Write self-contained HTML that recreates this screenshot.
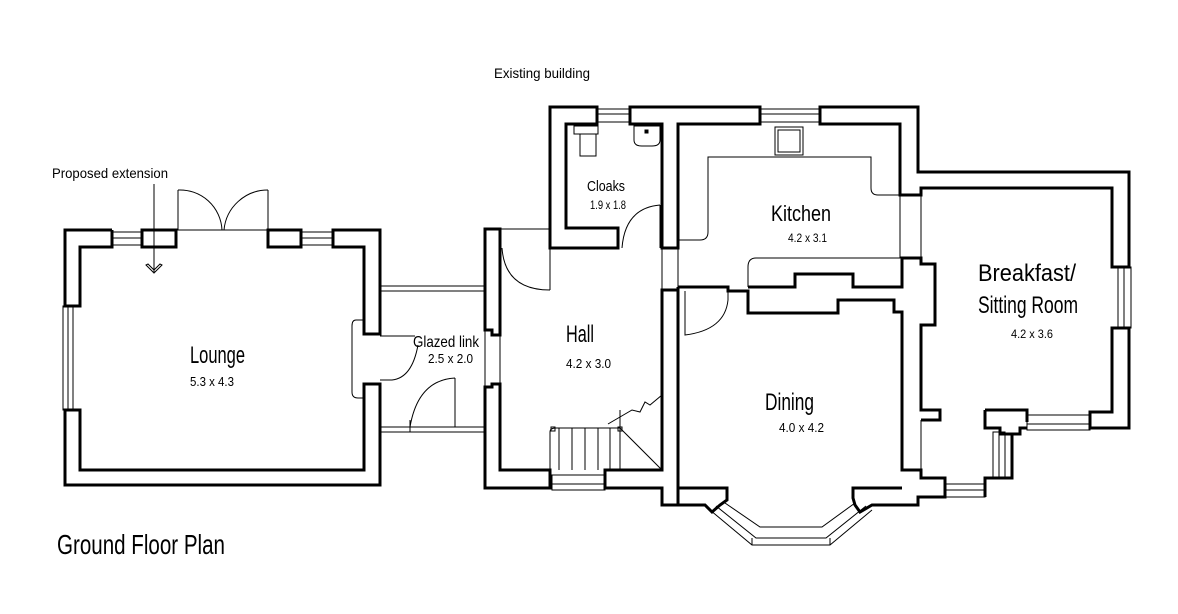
<!DOCTYPE html>
<html><head><meta charset="utf-8"><style>
html,body{margin:0;padding:0;background:#fff;}
svg{display:block;}
text{font-family:"Liberation Sans Narrow","Liberation Sans",sans-serif;fill:#000;}
</style></head><body>
<svg width="1178" height="614" viewBox="0 0 1178 614" xmlns="http://www.w3.org/2000/svg">
<g fill="none" stroke="#000" stroke-width="3" stroke-linejoin="miter">
<!-- Lounge walls -->
<path d="M112,230 H65 V306 H80 V247 H112 V230"/>
<path d="M65,410 H80 V470 H364 V384 H380 V485 H65 Z"/>
<path d="M333,230 H380 V334 H364 V247 H333 Z"/>
<rect x="142" y="230" width="34" height="17"/>
<rect x="268" y="230" width="33" height="17"/>
<!-- Hall -->
<path d="M500,229 H485 V330 H492 V335 H500 Z"/>
<path d="M485,387 H492 V384 H500 V470 H550 V488 H485 Z"/>
<path d="M605,488 V470 H662 V290 H678 V505 H662 V488 Z"/>
<!-- Cloaks + top -->
<path d="M550,248 V107 H597 V124 H566 V228 H618 V248 Z"/>
<path d="M630,107 H760 V124 H678 V248 H662 V124 H630 Z"/>
<path d="M820,107 H918 V172 H1129 V267 H1112 V188 H921 V195 H900 V124 H820 Z"/>
<!-- kitchen/dining divider -->
<path d="M678,287 H728 V291 H748 V313 H838 V300 H894 V312 H902 V470 H921 V478 H945 V497 H918 V505 H872 L860,512 L855,505 L853,498 V488 H902"/>
<path d="M748,287 H795 V274 H853 V287 H902 V258 H921 V264 H935 V325 H921 V410 H940 V420 H921"/>
<path d="M678,287 V291" />
<!-- Dining bottom + bay -->
<path d="M678,488 H727 V500 L720,505 L712,512 L705,505 H662"/>
<!-- Breakfast -->
<path d="M1129,328 V428 H1090 V412 H1112 V328 Z"/>
<path d="M1027,428 H1020 V434 H1012 V478 H985 V497 M985,478 V482 M1012,434 V478"/>
<path d="M985,410 H1027 V422 M985,410 V428 H1000 V434 H1012"/>
</g>
<g fill="none" stroke="#000" stroke-width="1">
<!-- windows -->
<rect x="112" y="232" width="30" height="13"/><line x1="112" y1="238" x2="142" y2="238"/>
<rect x="302" y="232" width="31" height="13"/><line x1="302" y1="238" x2="333" y2="238"/>
<rect x="63" y="306" width="10" height="104"/><line x1="68" y1="306" x2="68" y2="410"/>
<rect x="597" y="109" width="33" height="13"/><line x1="597" y1="114" x2="630" y2="114"/>
<rect x="760" y="109" width="60" height="13"/><line x1="760" y1="114" x2="820" y2="114"/>
<rect x="552" y="475" width="53" height="15"/><line x1="552" y1="484" x2="605" y2="484"/>
<rect x="1118" y="267" width="13" height="61"/><line x1="1124" y1="267" x2="1124" y2="328"/>
<rect x="1027" y="415" width="63" height="15"/><line x1="1027" y1="424" x2="1090" y2="424"/>
<rect x="945" y="484" width="40" height="13"/><line x1="945" y1="490" x2="985" y2="490"/>
<rect x="993" y="432" width="12" height="46"/><line x1="999" y1="432" x2="999" y2="478"/>
<!-- bay window -->
<path d="M710,510 L752,545 L830,545 L872,510"/>
<path d="M716,506 L756,538 L826,538 L866,506"/>
<path d="M725,503 L760,527 L822,527 L855,503"/>
<line x1="752" y1="538" x2="752" y2="545"/><line x1="830" y1="538" x2="830" y2="545"/>
<!-- doors lounge -->
<line x1="176" y1="230" x2="268" y2="230"/>
<line x1="178" y1="230" x2="178" y2="190"/><path d="M178,190 A42,42 0 0 1 222,230"/>
<line x1="268" y1="230" x2="268" y2="190"/><path d="M268,190 A44,44 0 0 0 224,230"/>
<!-- arrow -->
<line x1="154" y1="184" x2="154" y2="272"/>
<path d="M146,265 L154,273 L162,265 L160,264 L154,270 L148,264 Z"/>
<!-- glazed link -->
<path d="M380,286 H485 M380,291 H485 M380,427 H485 M380,432 H485"/>
<path d="M364,320 H356 Q352,320 352,326 V392 Q352,398 358,398 H364"/>
<path d="M380,336 H415"/>
<path d="M380,380 H392 Q412,378 418,345"/>
<path d="M455,378 V427 M455,378 Q418,380 410,427 M410,420 V432"/>
<!-- hall door -->
<path d="M550,248 V290 M550,290 Q505,290 502,248 M485,229 H550"/>
<!-- cloaks door -->
<path d="M660,205 V248 M660,205 Q625,208 622,248"/>
<!-- kitchen door etc -->
<path d="M728,291 V300 Q725,330 685,335 V291"/>
<path d="M678,240 H700 Q708,240 708,232 V157 H871 V188 Q871,195 878,195 H900"/>
<path d="M748,287 V267 Q748,258 756,258 H902"/>
<path d="M900,195 V258 M921,195 V258 M902,420 V470 M921,420 V470"/>
<rect x="775" y="127" width="28" height="28"/><rect x="778" y="130" width="22" height="22"/>
<!-- cloaks fixtures -->
<rect x="574" y="126" width="24" height="8"/><rect x="580" y="134" width="16" height="22"/>
<path d="M634,126 H660 V140 Q660,146 652,146 H642 Q634,146 634,140 Z"/>
<rect x="645" y="130" width="3" height="3" fill="#000"/>
<!-- stairs -->
<path d="M550,470 V432 Q550,428 556,428 H620 V470"/>
<path d="M559,428 V470 M572,428 V470 M585,428 V470 M598,428 V470 M610,428 V470"/>
<path d="M620,428 L662,470"/>
<path d="M608,424 L632,410 L640,412 L645,402 L650,405 L662,395"/>
<path d="M620,428 V410"/>
<rect x="551" y="427" width="4" height="4"/><rect x="618" y="427" width="4" height="4"/>
<!-- wall opening lines -->
<path d="M485,330 V387 M500,335 V384 M662,248 V290 M678,248 V290"/>
</g>
<g font-size="15">
<text x="494" y="78" font-size="14" textLength="96" lengthAdjust="spacingAndGlyphs">Existing building</text>
<text x="52" y="178" font-size="14" textLength="116" lengthAdjust="spacingAndGlyphs">Proposed extension</text>
<text x="587" y="191" textLength="38" lengthAdjust="spacingAndGlyphs">Cloaks</text>
<text x="590" y="209" font-size="12" textLength="36" lengthAdjust="spacingAndGlyphs">1.9 x 1.8</text>
<text x="771" y="221" font-size="22" textLength="60" lengthAdjust="spacingAndGlyphs">Kitchen</text>
<text x="788" y="242" font-size="12" textLength="39" lengthAdjust="spacingAndGlyphs">4.2 x 3.1</text>
<text x="978" y="281" font-size="24" textLength="98" lengthAdjust="spacingAndGlyphs">Breakfast/</text>
<text x="978" y="313" font-size="24" textLength="100" lengthAdjust="spacingAndGlyphs">Sitting Room</text>
<text x="1011" y="338" font-size="12" textLength="42" lengthAdjust="spacingAndGlyphs">4.2 x 3.6</text>
<text x="566" y="342" font-size="24" textLength="28" lengthAdjust="spacingAndGlyphs">Hall</text>
<text x="566" y="368" font-size="13" textLength="45" lengthAdjust="spacingAndGlyphs">4.2 x 3.0</text>
<text x="765" y="410" font-size="24" textLength="49" lengthAdjust="spacingAndGlyphs">Dining</text>
<text x="779" y="432" font-size="13" textLength="45" lengthAdjust="spacingAndGlyphs">4.0 x 4.2</text>
<text x="190" y="363" font-size="24" textLength="55" lengthAdjust="spacingAndGlyphs">Lounge</text>
<text x="190" y="386" font-size="13" textLength="44" lengthAdjust="spacingAndGlyphs">5.3 x 4.3</text>
<text x="413" y="347" font-size="16" textLength="66" lengthAdjust="spacingAndGlyphs">Glazed link</text>
<text x="428" y="363" font-size="13" textLength="45" lengthAdjust="spacingAndGlyphs">2.5 x 2.0</text>
<text x="57" y="554" font-size="28" textLength="168" lengthAdjust="spacingAndGlyphs">Ground Floor Plan</text>
</g>
</svg>
</body></html>
